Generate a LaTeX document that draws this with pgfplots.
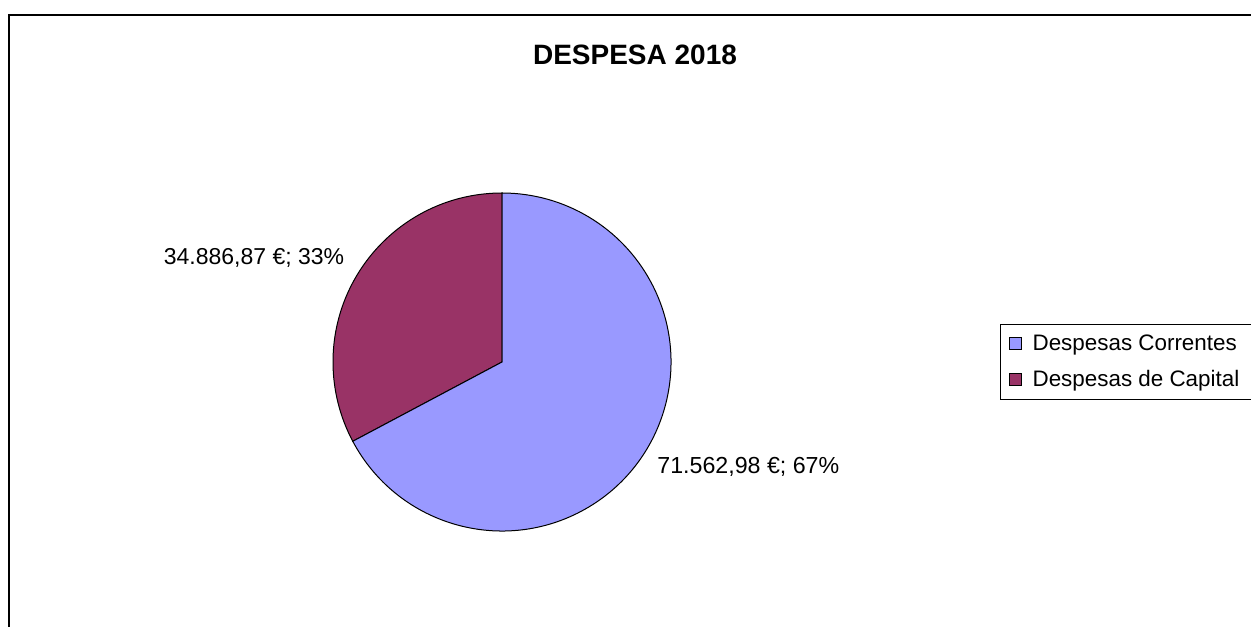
\documentclass[border=0pt]{standalone}
\usepackage{pgfplots}
\pgfplotsset{compat=1.18}
\usepackage{fontspec}
\setmainfont{Liberation Sans}
\definecolor{correntes}{HTML}{9999FF}
\definecolor{capital}{HTML}{993366}

% valores em milhares de euros
\def\vCor{71.56298}
\def\vCap{34.88687}

\begin{document}
\begin{tikzpicture}
\useasboundingbox (0,0) rectangle (625.5pt,313pt);
\pgfmathsetmacro{\aCap}{360*\vCap/(\vCor+\vCap)}
\pgfmathsetmacro{\aEnd}{90+\aCap}
\begin{axis}[
    at={(0,0)}, anchor=south west,
    scale only axis, width=625.5pt, height=313pt,
    xmin=0, xmax=1251, ymin=0, ymax=626,
    hide axis, clip=false,
    legend cell align=left,
    legend style={at={(axis cs:1000,302)}, anchor=north west,
        draw=black, line width=0.5pt, font=\fontsize{11.2}{13.4}\selectfont,
        row sep=4.4pt, inner xsep=4pt, inner ysep=3pt},
]
\addlegendimage{legend image code/.code={\draw[fill=correntes,draw=black,line width=0.6pt] (0pt,-3pt) rectangle (6pt,3pt); \path (9.5pt,0pt);}}
\addlegendentry{Despesas Correntes}
\addlegendimage{legend image code/.code={\draw[fill=capital,draw=black,line width=0.6pt] (0pt,-3pt) rectangle (6pt,3pt); \path (9.5pt,0pt);}}
\addlegendentry{Despesas de Capital}

% moldura
\draw[line width=1pt] (axis cs:9,-20) -- (axis cs:9,611) -- (axis cs:1280,611);

% setores
\filldraw[fill=capital, draw=black, line width=0.5pt] (axis cs:502,264) -- ++(90:84.5pt)
    arc[start angle=90, end angle=\aEnd, radius=84.5pt] -- cycle;
\filldraw[fill=correntes, draw=black, line width=0.5pt] (axis cs:502,264) -- ++(\aEnd:84.5pt)
    arc[start angle=\aEnd, end angle=450, radius=84.5pt] -- cycle;

\node[font=\fontsize{14}{16.8}\selectfont\bfseries] at (axis cs:635,571) {DESPESA 2018};
\node[font=\fontsize{11.5}{13.8}\selectfont] at (axis cs:254,368) {34.886,87 €; 33\%};
\node[font=\fontsize{11.6}{13.9}\selectfont, anchor=west, inner sep=0pt] at (axis cs:657,159) {71.562,98 €; 67\%};
\end{axis}
\end{tikzpicture}
\end{document}
